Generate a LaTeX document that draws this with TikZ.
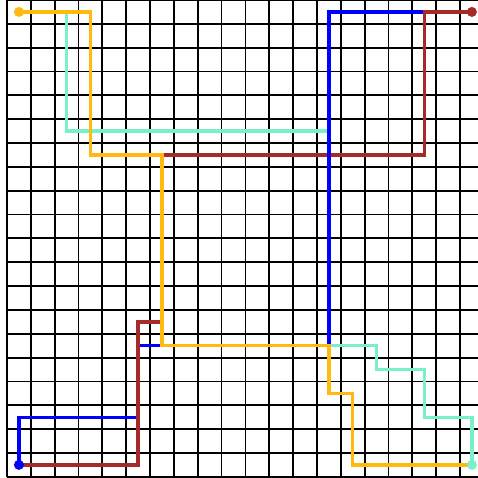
\documentclass[tikz,border=0pt]{standalone}
\usepackage{tikz}
\definecolor{routeyellow}{RGB}{255,185,15}
\definecolor{routecyan}{RGB}{122,240,200}
\definecolor{routebrown}{RGB}{165,42,42}
\definecolor{routeblue}{RGB}{0,0,255}

\begin{document}
\begin{tikzpicture}[x=0.6cm,y=0.6cm,route/.style={line width=2.4pt,line join=miter}]
    \useasboundingbox(-0.794,-19.51)rectangle(19.256,0.5);
    \clip(-0.794,-19.51)rectangle(19.256,0.5);
    \foreach\i in{0,...,20}{\draw[line width=1.3pt](\i-0.5,0.5)--(\i-0.5,-19.5);\draw[line width=1.3pt](-0.5,0.5-\i)--(19.5,0.5-\i);};

    \draw[route,routecyan](19,-19)--(19,-17)--(17,-17)--(17,-15)--(15,-15)--(15,-14)--(13,-14)--(13,-5)--(2,-5)--(2,0)--(0,0);
    \draw[route,routeblue](0,-19)--(0,-17)--(5,-17)--(5,-14)--(13,-14)--(13,0)--(19,0);
    \draw[route,routebrown](19,0)--(17,0)--(17,-6)--(6,-6)--(6,-13)--(5,-13)--(5,-19)--(0,-19);
    \draw[route,routeblue](13,-14)--(13,0);
    \draw[route,routeyellow](0,0)--(3,0)--(3,-6)--(6,-6)--(6,-14)--(13,-14)--(13,-16)--(14,-16)--(14,-19)--(19,-19);

    \fill[routeyellow](0,0)circle(0.21);\fill[routebrown](19,0)circle(0.21);
    \fill[routeblue](0,-19)circle(0.21);\fill[routecyan](19,-19)circle(0.21);
\end{tikzpicture}
\end{document}
